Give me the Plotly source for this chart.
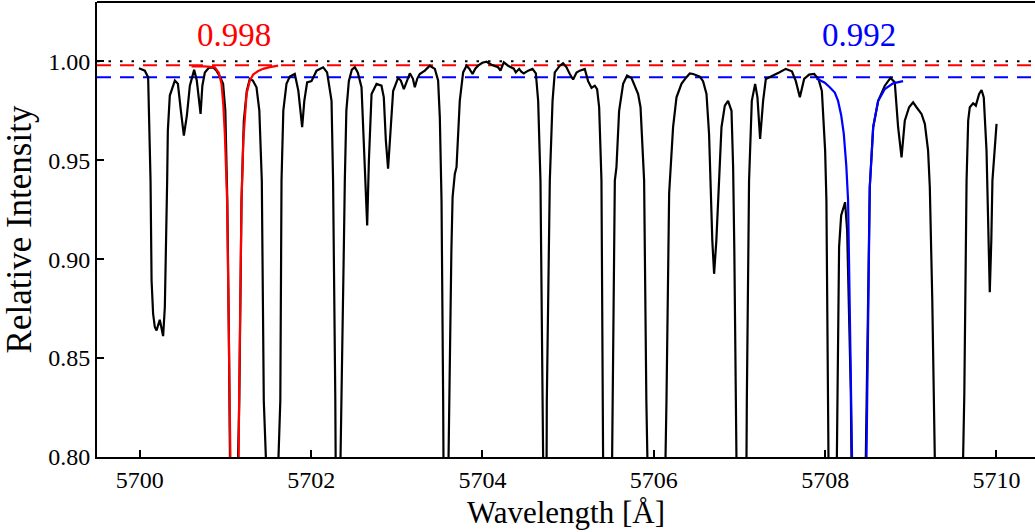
import plotly.graph_objects as go

# Observed spectrum (black)
wavelength = [
    5699.99, 5700.058, 5700.097, 5700.117, 5700.125, 5700.137, 5700.155, 5700.175, 5700.195, 5700.233,
    5700.272, 5700.292, 5700.303, 5700.319, 5700.327, 5700.350, 5700.409, 5700.444, 5700.479, 5700.514,
    5700.549, 5700.584, 5700.634, 5700.665, 5700.709, 5700.730, 5700.759, 5700.805, 5700.856, 5700.895,
    5700.934, 5700.972, 5700.998, 5701.021, 5701.039, 5701.051, 5701.103, 5701.147, 5701.161, 5701.187,
    5701.214, 5701.249, 5701.284, 5701.319, 5701.362, 5701.395, 5701.424, 5701.447, 5701.471, 5701.544,
    5701.619, 5701.640, 5701.654, 5701.675, 5701.712, 5701.751, 5701.809, 5701.850, 5701.895, 5701.920,
    5701.953, 5702.004, 5702.063, 5702.140, 5702.186, 5702.238, 5702.256, 5702.282, 5702.296, 5702.319,
    5702.343, 5702.355, 5702.381, 5702.393, 5702.411, 5702.440, 5702.475, 5702.510, 5702.545, 5702.588,
    5702.627, 5702.654, 5702.674, 5702.705, 5702.763, 5702.821, 5702.848, 5702.872, 5702.898, 5702.924,
    5702.957, 5703.015, 5703.047, 5703.082, 5703.117, 5703.152, 5703.187, 5703.210, 5703.239, 5703.268,
    5703.327, 5703.385, 5703.444, 5703.482, 5703.502, 5703.522, 5703.541, 5703.549, 5703.576, 5703.604,
    5703.611, 5703.637, 5703.651, 5703.677, 5703.697, 5703.718, 5703.735, 5703.774, 5703.814, 5703.846,
    5703.884, 5703.916, 5703.949, 5703.998, 5704.047, 5704.105, 5704.144, 5704.182, 5704.210, 5704.249,
    5704.299, 5704.339, 5704.366, 5704.389, 5704.428, 5704.453, 5704.482, 5704.533, 5704.584, 5704.623,
    5704.650, 5704.677, 5704.698, 5704.708, 5704.728, 5704.747, 5704.751, 5704.786, 5704.818, 5704.844,
    5704.903, 5704.941, 5704.981, 5705.019, 5705.058, 5705.098, 5705.136, 5705.194, 5705.233, 5705.273,
    5705.311, 5705.338, 5705.362, 5705.389, 5705.405, 5705.408, 5705.457, 5705.510, 5705.515, 5705.545,
    5705.564, 5705.595, 5705.642, 5705.688, 5705.740, 5705.778, 5705.817, 5705.845, 5705.866, 5705.887,
    5705.913, 5705.922, 5706.029, 5706.137, 5706.148, 5706.179, 5706.199, 5706.225, 5706.265, 5706.323,
    5706.374, 5706.420, 5706.459, 5706.498, 5706.537, 5706.575, 5706.615, 5706.645, 5706.665, 5706.683,
    5706.704, 5706.730, 5706.762, 5706.790, 5706.829, 5706.867, 5706.907, 5706.926, 5706.940, 5706.955,
    5706.965, 5707.024, 5707.082, 5707.086, 5707.112, 5707.124, 5707.144, 5707.183, 5707.210, 5707.241,
    5707.276, 5707.308, 5707.346, 5707.405, 5707.463, 5707.541, 5707.612, 5707.658, 5707.705, 5707.755,
    5707.813, 5707.872, 5707.922, 5707.962, 5708.000, 5708.015, 5708.029, 5708.039, 5708.088, 5708.137,
    5708.144, 5708.163, 5708.187, 5708.233, 5708.257, 5708.272, 5708.300, 5708.307, 5708.391, 5708.475,
    5708.484, 5708.521, 5708.561, 5708.619, 5708.697, 5708.763, 5708.813, 5708.852, 5708.892, 5708.930,
    5708.980, 5709.027, 5709.067, 5709.125, 5709.164, 5709.202, 5709.222, 5709.251, 5709.280, 5709.444,
    5709.611, 5709.625, 5709.651, 5709.670, 5709.689, 5709.728, 5709.759, 5709.798, 5709.826, 5709.852,
    5709.884, 5709.903, 5709.922, 5709.940, 5709.953, 5710.001,
]
intensity = [
    0.9965, 0.9953, 0.9919, 0.9549, 0.9397, 0.8892, 0.8724, 0.8657, 0.8640, 0.8694,
    0.8611, 0.8758, 0.8977, 0.9397, 0.9650, 0.9827, 0.9903, 0.9887, 0.9751, 0.9625,
    0.9726, 0.9877, 0.9957, 0.9903, 0.9734, 0.9877, 0.9944, 0.9968, 0.9970, 0.9953,
    0.9923, 0.9887, 0.9751, 0.9296, 0.8640, 0.8003, 0.5500, 0.8003, 0.8286, 0.9296,
    0.9700, 0.9852, 0.9911, 0.9903, 0.9869, 0.9751, 0.9397, 0.8286, 0.8003, 0.5500,
    0.8003, 0.8286, 0.9397, 0.9751, 0.9886, 0.9923, 0.9936, 0.9852, 0.9667, 0.9800,
    0.9894, 0.9900, 0.9953, 0.9970, 0.9944, 0.9800, 0.9397, 0.8286, 0.8003, 0.5500,
    0.8003, 0.8286, 0.9043, 0.9397, 0.9751, 0.9900, 0.9958, 0.9970, 0.9943, 0.9869,
    0.9465, 0.9170, 0.9498, 0.9835, 0.9886, 0.9877, 0.9818, 0.9600, 0.9457, 0.9650,
    0.9850, 0.9916, 0.9903, 0.9860, 0.9903, 0.9939, 0.9913, 0.9869, 0.9913, 0.9936,
    0.9953, 0.9978, 0.9962, 0.9903, 0.9717, 0.9296, 0.8286, 0.8003, 0.5500, 0.8003,
    0.8286, 0.9043, 0.9313, 0.9431, 0.9465, 0.9650, 0.9800, 0.9944, 0.9978, 0.9963,
    0.9936, 0.9963, 0.9978, 0.9993, 0.9998, 0.9983, 0.9976, 0.9970, 0.9953, 0.9995,
    0.9978, 0.9970, 0.9963, 0.9944, 0.9962, 0.9948, 0.9939, 0.9953, 0.9962, 0.9939,
    0.9800, 0.9397, 0.8286, 0.8003, 0.5500, 0.8003, 0.8286, 0.9397, 0.9800, 0.9944,
    0.9978, 0.9990, 0.9970, 0.9936, 0.9908, 0.9944, 0.9953, 0.9962, 0.9900, 0.9866,
    0.9877, 0.9860, 0.9768, 0.9397, 0.8286, 0.8003, 0.5500, 0.8003, 0.8286, 0.9397,
    0.9465, 0.9750, 0.9886, 0.9928, 0.9916, 0.9877, 0.9835, 0.9768, 0.9549, 0.9397,
    0.8286, 0.8003, 0.5500, 0.8003, 0.8286, 0.9332, 0.9499, 0.9667, 0.9818, 0.9886,
    0.9916, 0.9939, 0.9936, 0.9928, 0.9923, 0.9900, 0.9835, 0.9633, 0.9296, 0.9094,
    0.8926, 0.9094, 0.9397, 0.9667, 0.9776, 0.9800, 0.9750, 0.9465, 0.9043, 0.8286,
    0.8003, 0.5500, 0.8003, 0.8286, 0.9397, 0.9549, 0.9800, 0.9886, 0.9818, 0.9608,
    0.9800, 0.9911, 0.9919, 0.9928, 0.9944, 0.9962, 0.9950, 0.9900, 0.9818, 0.9911,
    0.9933, 0.9936, 0.9911, 0.9850, 0.9549, 0.9296, 0.8286, 0.8003, 0.6000, 0.8003,
    0.8322, 0.9061, 0.9221, 0.9288, 0.9145, 0.8892, 0.8322, 0.8003, 0.5500, 0.8003,
    0.8286, 0.9364, 0.9667, 0.9800, 0.9877, 0.9916, 0.9894, 0.9667, 0.9515, 0.9700,
    0.9768, 0.9793, 0.9768, 0.9734, 0.9684, 0.9549, 0.9364, 0.8791, 0.8003, 0.5500,
    0.8003, 0.8322, 0.9397, 0.9700, 0.9768, 0.9788, 0.9776, 0.9835, 0.9855, 0.9818,
    0.9549, 0.9145, 0.8833, 0.9094, 0.9397, 0.9684,
]

# Fitted line profile, continuum 0.998 (red)
red_wavelength = [
    5700.604, 5700.700, 5700.794, 5700.876, 5700.922, 5700.954, 5700.975, 5700.992, 5701.019, 5701.036,
    5701.051, 5701.057, 5701.103, 5701.150, 5701.159, 5701.173, 5701.187, 5701.208, 5701.246, 5701.284,
    5701.323, 5701.377, 5701.439, 5701.518, 5701.614,
]
red_intensity = [
    0.9975, 0.9976, 0.9973, 0.9970, 0.9943, 0.9886, 0.9776, 0.9635, 0.9296, 0.8791,
    0.8286, 0.8003, 0.5000, 0.8003, 0.8286, 0.8791, 0.9296, 0.9600, 0.9835, 0.9903,
    0.9933, 0.9950, 0.9962, 0.9971, 0.9978,
]

# Fitted line profile, continuum 0.992 (blue)
blue_wavelength = [
    5707.899, 5707.996, 5708.054, 5708.113, 5708.151, 5708.188, 5708.218, 5708.247, 5708.268, 5708.288,
    5708.307, 5708.314, 5708.399, 5708.483, 5708.492, 5708.507, 5708.521, 5708.561, 5708.619, 5708.697,
    5708.793, 5708.910,
]
blue_intensity = [
    0.9913, 0.9892, 0.9869, 0.9842, 0.9800, 0.9726, 0.9633, 0.9473, 0.9296, 0.8791,
    0.8286, 0.8003, 0.5000, 0.8003, 0.8286, 0.8791, 0.9364, 0.9667, 0.9800, 0.9860,
    0.9889, 0.9900,
]

# Continuum levels
unit_level = 1.0
continuum_levels = [0.998, 0.992]
continuum_labels = ["0.998", "0.992"]
label_wavelengths = [5701.1, 5708.4]
level_colors = ["#ff0000", "#0000ff"]

x_ticks = [5700, 5702, 5704, 5706, 5708, 5710]
y_ticks = [0.80, 0.85, 0.90, 0.95, 1.00]
x_range = [5699.5, 5710.45]
y_range = [0.80, 1.03]

FONT = "Liberation Serif"

fig = go.Figure()

# horizontal reference lines
fig.add_shape(type="line", xref="paper", yref="y", x0=0, x1=1, y0=unit_level, y1=unit_level,
              line=dict(color="black", width=2, dash="2.5px,9px"), layer="below")
for lvl, col in zip(continuum_levels, level_colors):
    fig.add_shape(type="line", xref="paper", yref="y", x0=0, x1=1, y0=lvl, y1=lvl,
                  line=dict(color=col, width=2, dash="14px,9px"), layer="below")
# top frame line (right side of the frame is outside the picture)
fig.add_shape(type="line", xref="paper", yref="paper", x0=0, x1=1, y0=1, y1=1,
              line=dict(color="black", width=2))

fig.add_trace(go.Scatter(x=wavelength, y=intensity, mode="lines",
                         line=dict(color="black", width=2.2), showlegend=False))
fig.add_trace(go.Scatter(x=red_wavelength, y=red_intensity, mode="lines",
                         line=dict(color="#ff0000", width=2.2), showlegend=False))
fig.add_trace(go.Scatter(x=blue_wavelength, y=blue_intensity, mode="lines",
                         line=dict(color="#0000ff", width=2.2), showlegend=False))

for lab, wl, col in zip(continuum_labels, label_wavelengths, level_colors):
    fig.add_annotation(x=wl, y=1.0135, xref="x", yref="y", text=lab, showarrow=False,
                       font=dict(family=FONT, size=33, color=col), xanchor="center", yanchor="middle")

fig.update_layout(
    width=1035, height=532,
    margin=dict(l=97, r=0, t=2, b=75),
    plot_bgcolor="white", paper_bgcolor="white",
    font=dict(family=FONT, color="black"),
    xaxis=dict(range=x_range, tickvals=x_ticks, ticktext=[str(v) for v in x_ticks],
               ticks="inside", ticklen=7, tickwidth=1.5, tickcolor="black",
               showline=True, linecolor="black", linewidth=2, mirror=False,
               showgrid=False, zeroline=False,
               tickfont=dict(family=FONT, size=24),
               title=dict(text="Wavelength [Å]", font=dict(family=FONT, size=31), standoff=10)),
    yaxis=dict(range=y_range, tickvals=y_ticks, ticktext=[f"{v:.2f}" for v in y_ticks],
               ticks="inside", ticklen=7, tickwidth=1.5, tickcolor="black",
               showline=True, linecolor="black", linewidth=2, mirror=False,
               showgrid=False, zeroline=False,
               tickfont=dict(family=FONT, size=24),
               title=dict(text="Relative Intensity", font=dict(family=FONT, size=35), standoff=8)),
)

fig.write_html("out.html", config={"displayModeBar": False},
               post_script="document.body.style.margin='0';document.body.style.overflow='hidden';")
